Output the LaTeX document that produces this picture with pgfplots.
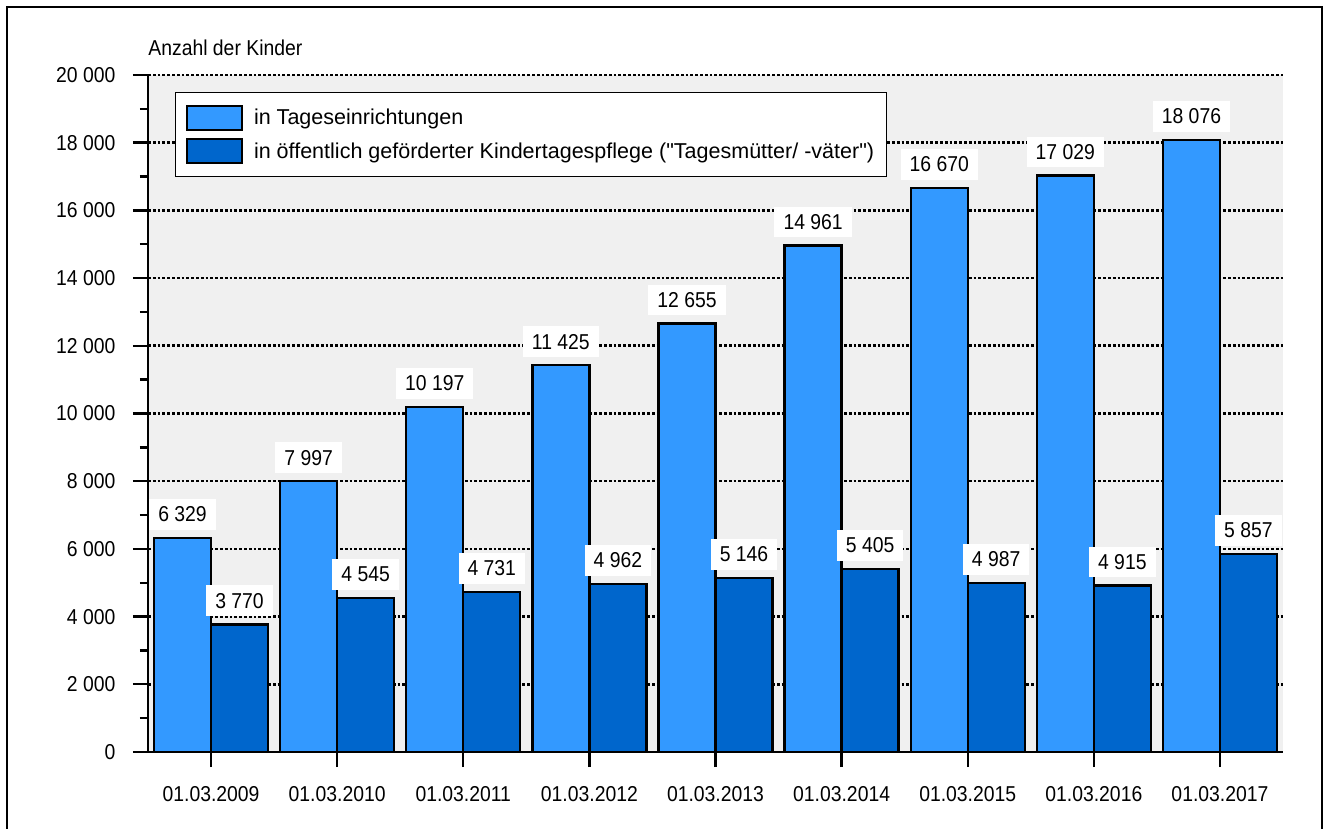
\documentclass[border=0pt]{standalone}
\usepackage{fontspec}
\setmainfont{Liberation Sans}
\newfontfamily\narrowfont{Liberation Sans}[FakeStretch=0.9]
\usepackage{pgfplots}
\pgfplotsset{compat=1.18}
\definecolor{lightbar}{HTML}{3399FF}
\definecolor{darkbar}{HTML}{0066CC}
\definecolor{plotbg}{HTML}{F0F0F0}
\pgfplotsset{boxlegend/.style={legend image code/.code={\draw[##1, line width=1.2bp] (0bp,-5.5bp) rectangle (27.5bp,6.5bp);}}}

\begin{document}
\narrowfont\fontsize{10.8}{12.8}\selectfont
\begin{tikzpicture}
\useasboundingbox (0,0) rectangle (662.5bp,414.5bp);
\draw[line width=1bp] (3.5bp,-3bp) rectangle (661bp,411bp);
\begin{axis}[
  at={(74bp,38.5bp)}, anchor=south west,
  scale only axis, width=567.5bp, height=338.5bp,
  ybar=0pt, bar width=28.5bp,
  xmin=-0.5, xmax=8.5, ymin=0, ymax=20000,
  xtick={0,...,8},
  xticklabels={01.03.2009,01.03.2010,01.03.2011,01.03.2012,01.03.2013,01.03.2014,01.03.2015,01.03.2016,01.03.2017},
  ytick={0,2000,...,20000},
  minor ytick={1000,3000,...,19000},
  scaled y ticks=false,
  axis x line*=bottom, axis y line*=left,
  tick align=outside,
  major tick length=7.5bp, minor tick length=4bp,
  every tick/.style={black, line width=1.2bp},
  axis line style={black, line width=1.2bp},
  ymajorgrids,
  major grid style={black, line width=1.3bp, dash pattern=on 1.4bp off 1bp},
  axis background/.style={fill=plotbg},
  /pgf/number format/1000 sep={\ },
  /pgf/number format/assume math mode=true,
  xticklabel style={yshift=-6bp},
  yticklabel style={xshift=-5bp},
  nodes near coords,
  every node near coord/.append style={fill=white, inner xsep=4.5bp, inner ysep=3.9bp, anchor=south, yshift=3.5bp, text=black},
  legend cell align=left,
  legend style={at={(0.0238,0.975)}, anchor=north west, draw=black, line width=0.6bp, fill=white,
    font=\normalfont\fontsize{10.8}{12.8}\selectfont,
    inner xsep=5bp, inner ysep=6bp, row sep=3.5bp, nodes={inner sep=1bp},
    /tikz/every odd column/.append style={column sep=4.5bp}},
]
\addplot[fill=lightbar, draw=black, line width=1.2bp, boxlegend]
  coordinates {(0,6329)(1,7997)(2,10197)(3,11425)(4,12655)(5,14961)(6,16670)(7,17029)(8,18076)};
\addlegendentry{in Tageseinrichtungen}
\addplot[fill=darkbar, draw=black, line width=1.2bp, boxlegend]
  coordinates {(0,3770)(1,4545)(2,4731)(3,4962)(4,5146)(5,5405)(6,4987)(7,4915)(8,5857)};
\addlegendentry{in öffentlich geförderter Kindertagespflege (\textquotedbl Tagesmütter/ -väter\textquotedbl)}
\end{axis}
\node[anchor=base west, inner sep=0pt] at (74bp,386.5bp) {Anzahl der Kinder};
\end{tikzpicture}
\end{document}
